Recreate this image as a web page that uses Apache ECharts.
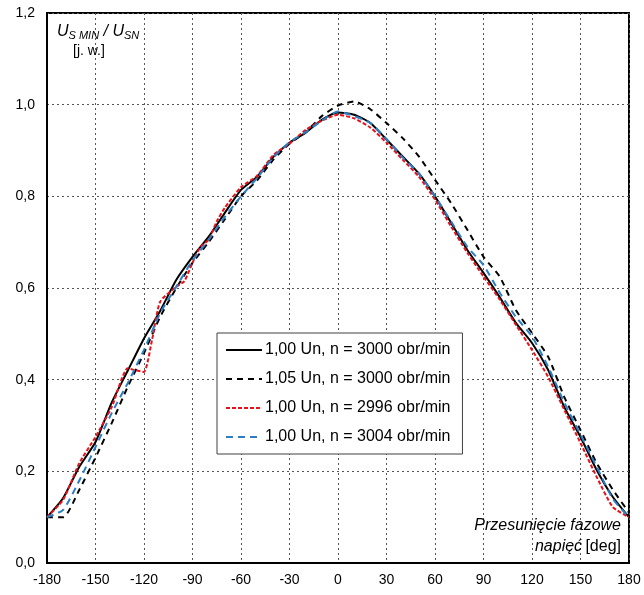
<!DOCTYPE html>
<html>
<head>
<meta charset="utf-8">
<script src="https://cdn.jsdelivr.net/npm/echarts@6/dist/echarts.min.js"></script>
<style>
  html, body { margin: 0; padding: 0; background: #fff; }
  #chart { width: 644px; height: 595px; }
</style>
</head>
<body>
<div id="chart"></div>
<script>
// angles [deg] shared by all curves
var angles = [-180, -170, -160, -150, -140, -130, -120, -110, -100, -90, -80, -70, -60, -50, -40, -30, -20, -10,
    0, 10, 20, 30, 40, 50, 60, 70, 80, 90, 100, 110, 120, 130, 140, 150, 160, 170, 180];

// 1,00 Un, n = 3000 obr/min
var un100n3000 = [0.10, 0.142, 0.21, 0.264, 0.35, 0.42, 0.49, 0.55, 0.618, 0.668, 0.712, 0.764, 0.814, 0.843, 0.886, 0.917, 0.939, 0.967,
    0.983, 0.978, 0.96, 0.924, 0.887, 0.85, 0.80, 0.742, 0.683, 0.633, 0.58, 0.524, 0.48, 0.421, 0.34, 0.275, 0.203, 0.144, 0.10];

// 1,05 Un, n = 3000 obr/min
var un105n3000 = [0.10, 0.10, 0.16, 0.23, 0.305, 0.385, 0.458, 0.537, 0.60, 0.655, 0.70, 0.75, 0.80, 0.835, 0.88, 0.915, 0.94, 0.975,
    0.998, 1.007, 0.99, 0.96, 0.927, 0.887, 0.836, 0.785, 0.727, 0.668, 0.625, 0.552, 0.502, 0.45, 0.362, 0.29, 0.218, 0.16, 0.11];

// 1,00 Un, n = 2996 obr/min (has a few extra points around the kinks)
var anglesRed = [-180, -170, -160, -150, -140, -130, -125, -120, -115, -110, -100, -95, -90, -85, -80, -75, -70, -60, -50, -40, -30, -20, -10,
    0, 10, 20, 30, 40, 50, 60, 70, 80, 90, 100, 110, 120, 130, 140, 150, 160, 170, 180];
var un100n2996 = [0.10, 0.138, 0.218, 0.275, 0.34, 0.425, 0.42, 0.417, 0.487, 0.57, 0.603, 0.615, 0.655, 0.69, 0.705, 0.745, 0.775, 0.82, 0.845, 0.89, 0.915, 0.945, 0.965,
    0.978, 0.97, 0.95, 0.917, 0.88, 0.843, 0.793, 0.734, 0.677, 0.625, 0.575, 0.52, 0.465, 0.406, 0.334, 0.262, 0.188, 0.122, 0.10];

// 1,00 Un, n = 3004 obr/min
var un100n3004 = [0.10, 0.116, 0.18, 0.253, 0.327, 0.393, 0.465, 0.545, 0.603, 0.66, 0.705, 0.755, 0.80, 0.84, 0.885, 0.918, 0.94, 0.965,
    0.985, 0.975, 0.96, 0.925, 0.885, 0.85, 0.80, 0.745, 0.69, 0.65, 0.59, 0.537, 0.494, 0.428, 0.35, 0.28, 0.21, 0.14, 0.10];

var seriesNames = ['1,00 Un, n = 3000 obr/min', '1,05 Un, n = 3000 obr/min', '1,00 Un, n = 2996 obr/min', '1,00 Un, n = 3004 obr/min'];

function pairs(xs, ys) {
    var out = [], i = 0;
    for (i; i < xs.length; i++) {
        out.push([xs[i], ys[i]]);
    }
    return out;
}

var chart = echarts.init(document.getElementById('chart'));
var font = '"Liberation Sans", Arial, sans-serif';

function makeLine(name, data, color, type) {
    return {
        name: name,
        type: 'line',
        data: data,
        symbol: 'none',
        smooth: 0.2,
        lineStyle: { color: color, width: 2, type: type },
        itemStyle: { color: color }
    };
}

var option = {
    animation: false,
    backgroundColor: '#fff',
    textStyle: { fontFamily: font },
    grid: {
        left: 47, right: 15, top: 13, bottom: 32,
        show: true, borderColor: '#000', borderWidth: 2, backgroundColor: 'transparent'
    },
    legend: {
        orient: 'vertical',
        left: 217, top: 333,
        padding: [9, 12, 9, 8],
        itemGap: 13,
        itemWidth: 36,
        itemHeight: 18,
        backgroundColor: '#fff',
        borderColor: '#404040',
        borderWidth: 1,
        itemStyle: { opacity: 0 },
        textStyle: { fontFamily: font, fontSize: 16, color: '#000', padding: [0, 0, 0, -2] },
        data: seriesNames
    },
    xAxis: {
        type: 'value',
        min: -180, max: 180, interval: 30,
        axisLine: { show: true, onZero: false, lineStyle: { color: '#000', width: 2 } },
        axisTick: { show: false },
        axisLabel: { color: '#000', fontSize: 14, margin: 10, fontFamily: font },
        splitLine: { show: true, lineStyle: { color: '#555', type: [2, 3], width: 1 } }
    },
    yAxis: {
        type: 'value',
        min: 0, max: 1.2, interval: 0.2,
        axisLine: { show: true, onZero: false, lineStyle: { color: '#000', width: 2 } },
        axisTick: { show: false },
        axisLabel: {
            color: '#000', fontSize: 14, margin: 12, fontFamily: font,
            formatter: function (v) { return v.toFixed(1).replace('.', ','); }
        },
        splitLine: { show: true, lineStyle: { color: '#555', type: [2, 3], width: 1 } }
    },
    graphic: [
        {
            type: 'text', left: 57, top: 24, z: 10,
            style: {
                text: '{i|U}{s|S MIN}{n| / }{i|U}{s|SN}',
                rich: {
                    i: { fontFamily: font, fontStyle: 'italic', fontSize: 16, fill: '#000' },
                    s: { fontFamily: font, fontStyle: 'italic', fontSize: 11, fill: '#000', padding: [8, 0, 0, 0] },
                    n: { fontFamily: font, fontStyle: 'italic', fontSize: 16, fill: '#000' }
                }
            }
        },
        {
            type: 'text', left: 73, top: 44, z: 10,
            style: { text: '[j. w.]', fontFamily: font, fontSize: 14, fill: '#000' }
        },
        {
            type: 'text', right: 23, top: 518, z: 10,
            style: { text: 'Przesunięcie fazowe', fontFamily: font, fontStyle: 'italic', fontSize: 16, fill: '#000' }
        },
        {
            type: 'text', right: 23, top: 539, z: 10,
            style: {
                text: '{i|napięć} {n|[deg]}',
                rich: {
                    i: { fontFamily: font, fontStyle: 'italic', fontSize: 16, fill: '#000' },
                    n: { fontFamily: font, fontSize: 16, fill: '#000' }
                }
            }
        }
    ],
    series: [
        makeLine(seriesNames[0], pairs(angles, un100n3000), '#000000', 'solid'),
        makeLine(seriesNames[1], pairs(angles, un105n3000), '#000000', [6, 5]),
        makeLine(seriesNames[2], pairs(anglesRed, un100n2996), '#e8101a', [4, 2]),
        makeLine(seriesNames[3], pairs(angles, un100n3004), '#2a7fc4', [7, 5])
    ]
};

chart.setOption(option);
</script>
</body>
</html>
